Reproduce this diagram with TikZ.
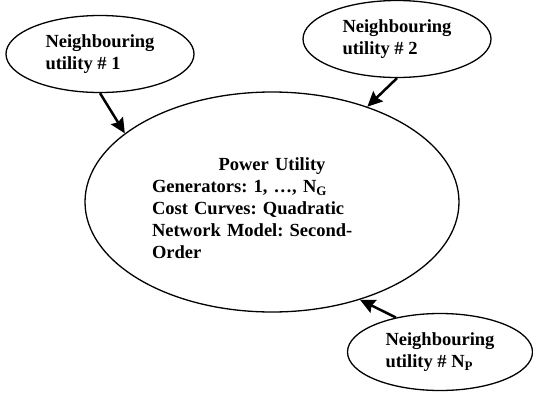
\documentclass[tikz,border=0pt]{standalone}
\usepackage{fontspec}
\setmainfont{Liberation Serif}
\usetikzlibrary{shapes.geometric,arrows.meta}

\tikzset{
  utility/.style={draw,ellipse,line width=1.3pt,inner sep=0pt,align=left,
    font=\bfseries\fontsize{18.5}{22}\selectfont},
  neighbour/.style={utility,minimum width=188pt,minimum height=77pt},
  link/.style={line width=2.5pt,-{Stealth[length=15pt,width=14pt,inset=2pt]}}
}

\begin{document}
\frenchspacing
\begin{tikzpicture}[x=1pt,y=-1pt]
\useasboundingbox (0,0) rectangle (533,394);
% the utility itself
\node[utility,minimum width=374pt,minimum height=220pt,text width=240pt]
  (util) at (272,202)
  {\makebox[\linewidth]{\rule{0pt}{26pt}Power Utility}\\
   Generators: 1, …, N\textsubscript{G}\\
   Cost Curves: Quadratic\\
   Network Model: Second-\\
   Order};
% the neighbouring utilities
\node[neighbour] (nb1) at (100,54) {Neighbouring\\utility \# 1};
\node[neighbour] (nb2) at (397,39) {Neighbouring\\utility \# 2};
\node[neighbour,minimum width=185pt] (nbp) at (440,352)
  {Neighbouring\\utility \# N\textsubscript{P}};
% links into the utility
\draw[link] (nb1.south) -- (util.155);
\draw[link] (nb2.south) -- (util.45);
\draw[link] (nbp.142) -- (util.312);
\end{tikzpicture}
\end{document}
